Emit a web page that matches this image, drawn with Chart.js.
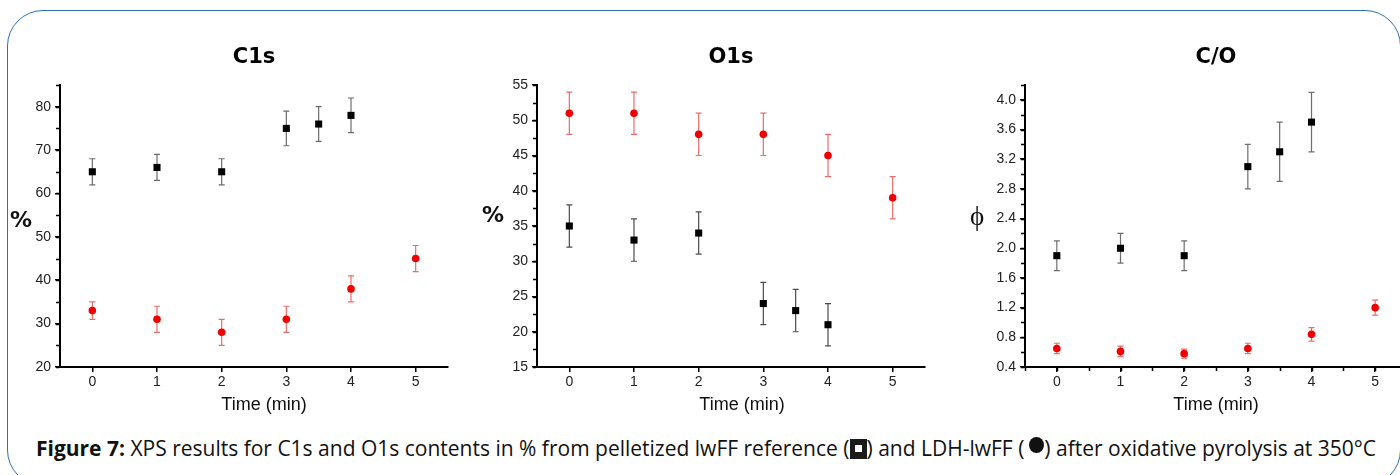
<!DOCTYPE html>
<html>
<head>
  <title>XPS C1s / O1s</title>
  <script src="https://cdn.jsdelivr.net/npm/chart.js"></script>
  <style>
    html, body {
      margin: 0;
      padding: 0;
      background: #fff;
      overflow: hidden;
    }
    #page {
      position: relative;
      width: 1400px;
      height: 475px;
      overflow: hidden;
    }
    #frame {
      position: absolute;
      left: 7px;
      top: 10px;
      width: 1392px;
      height: 474px;
      border: 1.5px solid #2a6fb4;
      border-radius: 36px;
    }
    canvas {
      position: absolute;
      top: 0;
    }
    #caption {
      position: absolute;
      left: 0;
      width: 1412px;
      top: 437px;
      line-height: 21px;
      text-align: center;
      font-family: "Open Sans", sans-serif;
      font-size: 21px;
      color: #111;
      white-space: nowrap;
    }
    .sq {
      display: inline-block;
      width: 17px;
      height: 20px;
      background: #1a1a1a;
      position: relative;
      vertical-align: -3px;
    }
    .sq::after {
      content: '';
      position: absolute;
      left: 5px;
      top: 6px;
      width: 7px;
      height: 7px;
      background: #fff;
    }
    .dot {
      display: inline-block;
      width: 15px;
      height: 16px;
      border-radius: 50%;
      background: #111;
      vertical-align: 3px;
      margin-left: 5px;
    }
  </style>
</head>
<body>
  <div id="page">
    <div id="frame"></div>
    <canvas id="c1s" width="470" height="420" style="left:0px"></canvas>
    <canvas id="o1s" width="470" height="420" style="left:470px"></canvas>
    <canvas id="co" width="482" height="420" style="left:930px"></canvas>
    <div id="caption"><b>Figure 7:</b> XPS results for C1s and O1s contents in % from pelletized lwFF reference (<span class="sq"></span>) and LDH-lwFF (<span class="dot"></span>) after oxidative pyrolysis at 350°C</div>
  </div>
  <script>
    // time axis (min)
    const timeRef = [0, 1, 2, 3, 3.5, 4];
    const timeLdh = [0, 1, 2, 3, 4, 5];
    const timeTicks = [0, 1, 2, 3, 4, 5];

    // C1s (%)
    const c1sRef = [65, 66, 65, 75, 76, 78];
    const c1sRefErr = [3, 3, 3, 4, 4, 4];
    const c1sLdh = [33, 31, 28, 31, 38, 45];
    const c1sLdhErr = [2, 3, 3, 3, 3, 3];
    const c1sTicks = [20, 30, 40, 50, 60, 70, 80];

    // O1s (%)
    const o1sRef = [35, 33, 34, 24, 23, 21];
    const o1sRefErr = [3, 3, 3, 3, 3, 3];
    const o1sLdh = [51, 51, 48, 48, 45, 39];
    const o1sLdhErr = [3, 3, 3, 3, 3, 3];
    const o1sTicks = [15, 20, 25, 30, 35, 40, 45, 50, 55];

    // C/O ratio
    const coRef = [1.9, 2.0, 1.9, 3.1, 3.3, 3.7];
    const coRefErr = [0.2, 0.2, 0.2, 0.3, 0.4, 0.4];
    const coLdh = [0.65, 0.61, 0.58, 0.65, 0.84, 1.2];
    const coLdhErr = [0.07, 0.07, 0.06, 0.07, 0.09, 0.1];
    const coTicks = [0.4, 0.8, 1.2, 1.6, 2.0, 2.4, 2.8, 3.2, 3.6, 4.0];

    const tickFont = { family: 'Liberation Sans, Arial, sans-serif', size: 14 };

    // error bars drawn under the markers
    const errorBars = {
      id: 'errorBars',
      beforeDatasetsDraw(chart) {
        const ctx = chart.ctx;
        const xs = chart.scales.x, ys = chart.scales.y;
        chart.data.datasets.forEach((ds) => {
          ctx.save();
          ctx.strokeStyle = ds.errorColor;
          ctx.lineWidth = 1.2;
          ds.data.forEach((p, i) => {
            const e = ds.errors[i];
            const px = xs.getPixelForValue(p.x);
            const top = ys.getPixelForValue(p.y + e);
            const bot = ys.getPixelForValue(p.y - e);
            ctx.beginPath();
            ctx.moveTo(px, top); ctx.lineTo(px, bot);
            ctx.moveTo(px - 3, top); ctx.lineTo(px + 3, top);
            ctx.moveTo(px - 3, bot); ctx.lineTo(px + 3, bot);
            ctx.stroke();
          });
          ctx.restore();
        });
      }
    };

    // minor ticks and upright axis labels
    const axisExtras = {
      id: 'axisExtras',
      afterDraw(chart, args, opts) {
        const ctx = chart.ctx;
        const a = chart.chartArea;
        const xs = chart.scales.x, ys = chart.scales.y;
        ctx.save();
        ctx.strokeStyle = '#000';
        ctx.lineWidth = 1.5;
        ctx.beginPath();
        if (opts.minorY) {
          for (let v = ys.min; v <= ys.max + 1e-9; v += opts.minorY) {
            const py = Math.round(ys.getPixelForValue(v)) + 0.5;
            ctx.moveTo(a.left - 1, py); ctx.lineTo(a.left - 4, py);
          }
        }
        if (opts.minorX) {
          for (let v = xs.min; v <= xs.max + 1e-9; v += opts.minorX) {
            const px = Math.round(xs.getPixelForValue(v)) + 0.5;
            ctx.moveTo(px, a.bottom + 1); ctx.lineTo(px, a.bottom + 4);
          }
        }
        ctx.stroke();

        ctx.fillStyle = '#111';
        ctx.textAlign = 'center';
        ctx.textBaseline = 'middle';
        ctx.font = opts.yFont;
        ctx.fillText(opts.yText, opts.yX, (a.top + a.bottom) / 2 + opts.yDy);
        ctx.font = opts.xFont;
        ctx.fillText(opts.xText, (a.left + a.right) / 2 + opts.xDx, opts.xY);
        ctx.restore();
      }
    };

    function series(xs, ys, errs, style, color, errColor, radius) {
      return {
        data: xs.map((x, i) => ({ x: x, y: ys[i] })),
        errors: errs,
        errorColor: errColor,
        pointStyle: style,
        pointRadius: radius,
        pointHoverRadius: radius,
        backgroundColor: color,
        borderColor: color,
        borderWidth: 0,
        showLine: false
      };
    }

    function makeChart(id, cfg) {
      return new Chart(document.getElementById(id), {
        type: 'scatter',
        data: {
          datasets: [
            series(timeRef, cfg.ref, cfg.refErr, 'rect', '#000', cfg.refErrColor, 5),
            series(timeLdh, cfg.ldh, cfg.ldhErr, 'circle', '#f00000', 'rgba(225, 60, 60, 0.75)', 3.8)
          ]
        },
        options: {
          responsive: false,
          animation: false,
          devicePixelRatio: 1,
          layout: { padding: { left: 0, right: cfg.padRight, top: 0, bottom: 0 } },
          plugins: {
            legend: { display: false },
            tooltip: { enabled: false },
            title: {
              display: true,
              text: cfg.title,
              fullSize: false,
              color: '#000',
              font: { family: 'DejaVu Sans', size: 21, weight: 'bold', lineHeight: 1 },
              padding: { top: 47, bottom: 17 }
            },
            axisExtras: {
              minorY: cfg.minorY,
              minorX: cfg.minorX,
              yText: cfg.yText,
              yFont: cfg.yFont,
              yX: cfg.yX,
              yDy: cfg.yDy,
              xText: 'Time (min)',
              xFont: '18px "Liberation Sans", Arial, sans-serif',
              xDx: cfg.xDx,
              xY: 405
            }
          },
          scales: {
            x: {
              type: 'linear',
              min: -0.5,
              max: 5.5,
              afterBuildTicks: (s) => { s.ticks = timeTicks.map((v) => ({ value: v })); },
              afterFit: (s) => { s.height = 53; },
              ticks: { font: tickFont, color: '#222', padding: 2, autoSkip: false, maxRotation: 0 },
              grid: { drawOnChartArea: false, tickLength: 5, color: '#000', lineWidth: 1.5 },
              border: { color: '#000', width: 2 }
            },
            y: {
              min: cfg.yMin,
              max: cfg.yMax,
              afterBuildTicks: (s) => { s.ticks = cfg.yTicks.map((v) => ({ value: v })); },
              afterFit: (s) => { s.width = cfg.yWidth; },
              ticks: {
                font: tickFont,
                color: '#222',
                padding: 4,
                autoSkip: false,
                callback: (v) => cfg.yDigits ? v.toFixed(cfg.yDigits) : v
              },
              grid: { drawOnChartArea: false, tickLength: 5, color: '#000', lineWidth: 1.5 },
              border: { color: '#000', width: 2 }
            }
          }
        },
        plugins: [errorBars, axisExtras]
      });
    }

    makeChart('c1s', {
      title: 'C1s', ref: c1sRef, refErr: c1sRefErr, ldh: c1sLdh, ldhErr: c1sLdhErr,
      refErrColor: 'rgba(60, 60, 60, 0.75)',
      yMin: 20, yMax: 85, yTicks: c1sTicks, yDigits: 0, minorY: 5, minorX: 0,
      yWidth: 60, padRight: 22,
      yText: '%', yFont: 'bold 22px "DejaVu Sans"', yX: 21, yDy: -5, xDx: 10
    });

    makeChart('o1s', {
      title: 'O1s', ref: o1sRef, refErr: o1sRefErr, ldh: o1sLdh, ldhErr: o1sLdhErr,
      refErrColor: 'rgba(30, 30, 30, 0.8)',
      yMin: 15, yMax: 55, yTicks: o1sTicks, yDigits: 0, minorY: 2.5, minorX: 0,
      yWidth: 67, padRight: 15,
      yText: '%', yFont: 'bold 22px "DejaVu Sans"', yX: 23, yDy: -10, xDx: 11
    });

    makeChart('co', {
      title: 'C/O', ref: coRef, refErr: coRefErr, ldh: coLdh, ldhErr: coLdhErr,
      refErrColor: 'rgba(60, 60, 60, 0.75)',
      yMin: 0.4, yMax: 4.2, yTicks: coTicks, yDigits: 1, minorY: 0.2, minorX: 0.5,
      yWidth: 95, padRight: 0,
      yText: 'ϕ', yFont: '27px "Liberation Serif", serif', yX: 47, yDy: -8, xDx: 0
    });
  </script>
</body>
</html>
